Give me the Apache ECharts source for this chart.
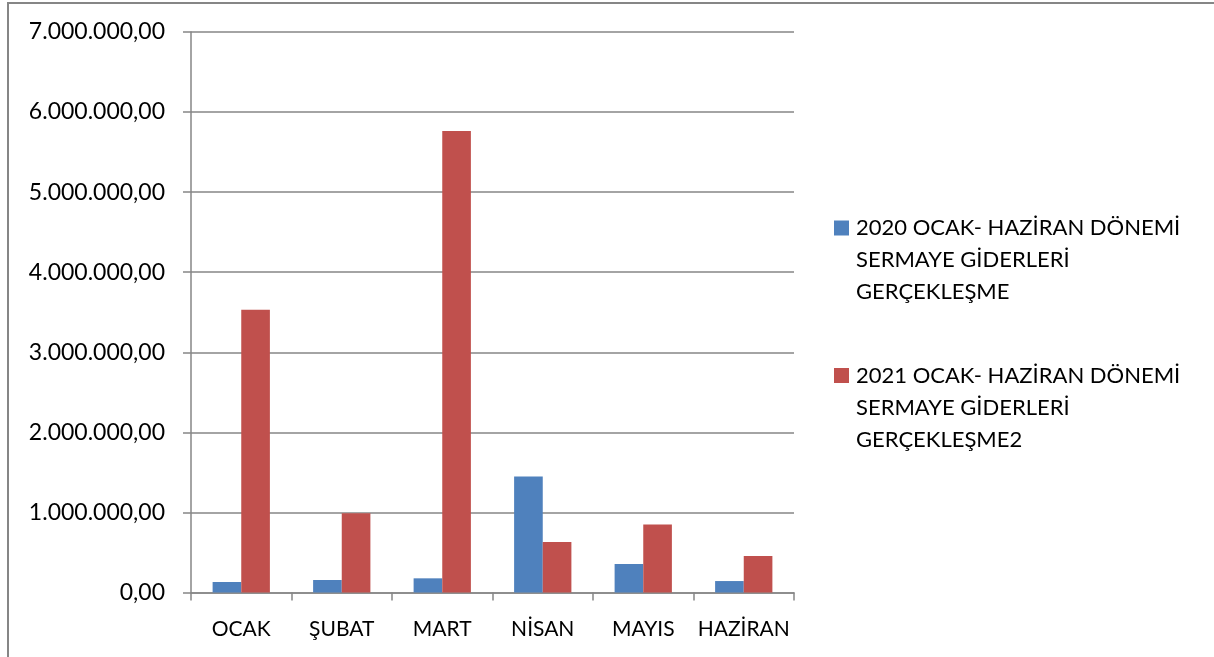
<!DOCTYPE html>
<html>
<head>
<meta charset="utf-8">
<script src="https://cdn.jsdelivr.net/npm/echarts@6/dist/echarts.min.js"></script>
<style>
  html, body { margin: 0; padding: 0; background: #fff; }
  #frame { position: absolute; left: 7px; top: 2px; right: 0; bottom: 0;
           border-left: 2px solid #868686; border-top: 2px solid #868686; }
  #chart { position: absolute; left: 0; top: 0; width: 1214px; height: 657px; }
</style>
</head>
<body>
<div id="frame"></div>
<div id="chart"></div>
<script>
const months = ['OCAK', 'ŞUBAT', 'MART', 'NİSAN', 'MAYIS', 'HAZİRAN'];
const series2020 = [131000, 156000, 177000, 1450000, 356000, 143000];
const series2021 = [3530000, 990000, 5765000, 630000, 850000, 456000];
const name2020 = '2020 OCAK- HAZİRAN DÖNEMİ\nSERMAYE GİDERLERİ\nGERÇEKLEŞME';
const name2021 = '2021 OCAK- HAZİRAN DÖNEMİ\nSERMAYE GİDERLERİ\nGERÇEKLEŞME2';

const FONT = 'Lato, "Open Sans", sans-serif';
const GRAY = '#868686';

function fmtTR(v) {
  const s = Math.round(v).toString().replace(/\B(?=(\d{3})+(?!\d))/g, '.');
  return s + ',00';
}

function legendAt(name, top) {
  return {
    data: [name],
    left: 834, top: top, padding: 0,
    itemWidth: 15, itemHeight: 15,
    icon: 'rect',
    formatter: n => '\n\n' + n,
    textStyle: { fontFamily: FONT, fontSize: 22, color: '#000', lineHeight: 32, padding: [0, 0, 0, 2] },
  };
}

const chart = echarts.init(document.getElementById('chart'), null, { renderer: 'canvas' });
chart.setOption({
  animation: false,
  backgroundColor: 'transparent',
  grid: { left: 191, right: 420, top: 32, bottom: 64.5, containLabel: false },
  legend: [legendAt(name2020, 148), legendAt(name2021, 295.5)],
  xAxis: {
    type: 'category', data: months,
    axisLine: { lineStyle: { color: GRAY, width: 1.5 } },
    axisTick: { show: true, length: 8, lineStyle: { color: GRAY, width: 1.5 } },
    axisLabel: { interval: 0, fontFamily: FONT, fontSize: 21, color: '#000', margin: 26 },
  },
  yAxis: {
    type: 'value', min: 0, max: 7000000, interval: 1000000,
    axisLine: { show: true, lineStyle: { color: GRAY, width: 1.5 } },
    axisTick: { show: true, length: 8, lineStyle: { color: GRAY, width: 1.5 } },
    splitLine: { lineStyle: { color: GRAY, width: 1.5 } },
    axisLabel: { fontFamily: FONT, fontSize: 23, color: '#000', margin: 26, formatter: fmtTR },
  },
  series: [
    { name: name2020, type: 'bar', data: series2020, itemStyle: { color: '#4F81BD' },
      barGap: '0%', barCategoryGap: '43%' },
    { name: name2021, type: 'bar', data: series2021, itemStyle: { color: '#C0504D' },
      barGap: '0%', barCategoryGap: '43%' },
  ],
});
</script>
</body>
</html>
